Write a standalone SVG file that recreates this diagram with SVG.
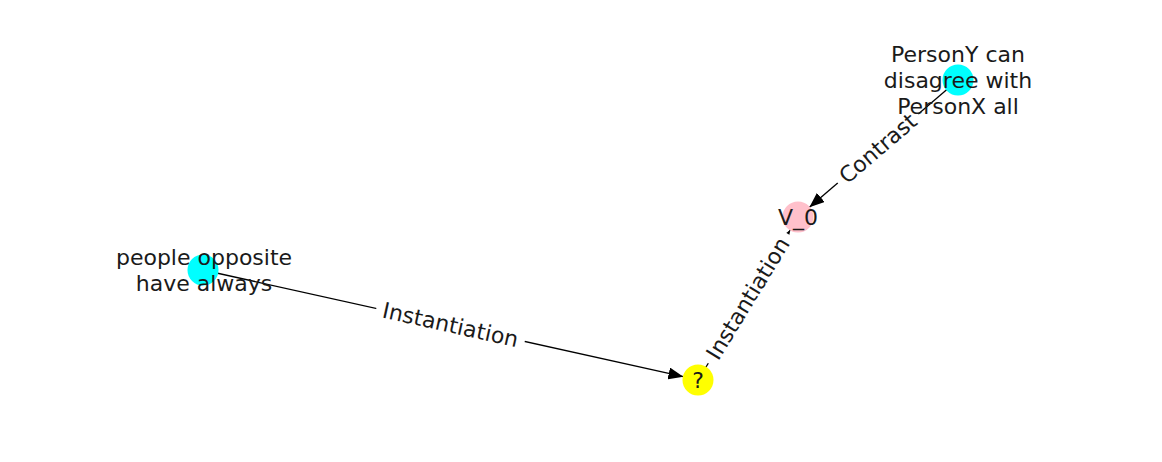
<svg xmlns="http://www.w3.org/2000/svg" width="1162" height="462" viewBox="0 0 1162 462">
<style>
text{font-family:"DejaVu Sans",sans-serif;font-size:22px;fill:#1a1a1a;text-anchor:middle;dominant-baseline:central}
.e{stroke:#000;stroke-width:1.3;fill:none}
.lb{fill:#fff;stroke:none}
</style>
<defs>
<marker id="ah" markerUnits="userSpaceOnUse" markerWidth="16" markerHeight="12" refX="15" refY="6" orient="auto">
<path d="M0,0 L15,6 L0,12 Z" fill="#000"/>
</marker>
</defs>
<rect width="1162" height="462" fill="#fff"/>
<g id="edges">
<line class="e" x1="958" y1="80" x2="809.4" y2="207.2" marker-end="url(#ah)"/>
<line class="e" x1="203" y1="270" x2="683.4" y2="376.7" marker-end="url(#ah)"/>
<line class="e" x1="698" y1="380" x2="790.2" y2="230" marker-end="url(#ah)"/>
<g transform="translate(878,148.5) rotate(-40.6)">
<rect class="lb" x="-53" y="-15" width="106" height="30" rx="4"/>
<text x="0" y="0">Contrast</text>
</g>
<g transform="translate(450.5,325) rotate(12.5)">
<rect class="lb" x="-76" y="-15" width="152" height="30" rx="4"/>
<text x="0" y="0">Instantiation</text>
</g>
<g transform="translate(748,298.5) rotate(-58.5)">
<rect class="lb" x="-76" y="-15" width="152" height="30" rx="4"/>
<text x="0" y="0">Instantiation</text>
</g>
</g>
<g id="n1">
<circle cx="958" cy="80" r="15.5" fill="#00ffff"/>
<text x="958" y="54">PersonY can</text>
<text x="958" y="80">disagree with</text>
<text x="958" y="106">PersonX all</text>
</g>
<g id="n2">
<circle cx="798" cy="217" r="15.5" fill="#ffc0cb"/>
<text x="798" y="217">V_0</text>
</g>
<g id="n3">
<circle cx="203" cy="270" r="15.5" fill="#00ffff"/>
<text x="204" y="257.5">people opposite</text>
<text x="204" y="283">have always</text>
</g>
<g id="n4">
<circle cx="698" cy="380" r="15.5" fill="#ffff00"/>
<text x="698" y="380">?</text>
</g>
</svg>
